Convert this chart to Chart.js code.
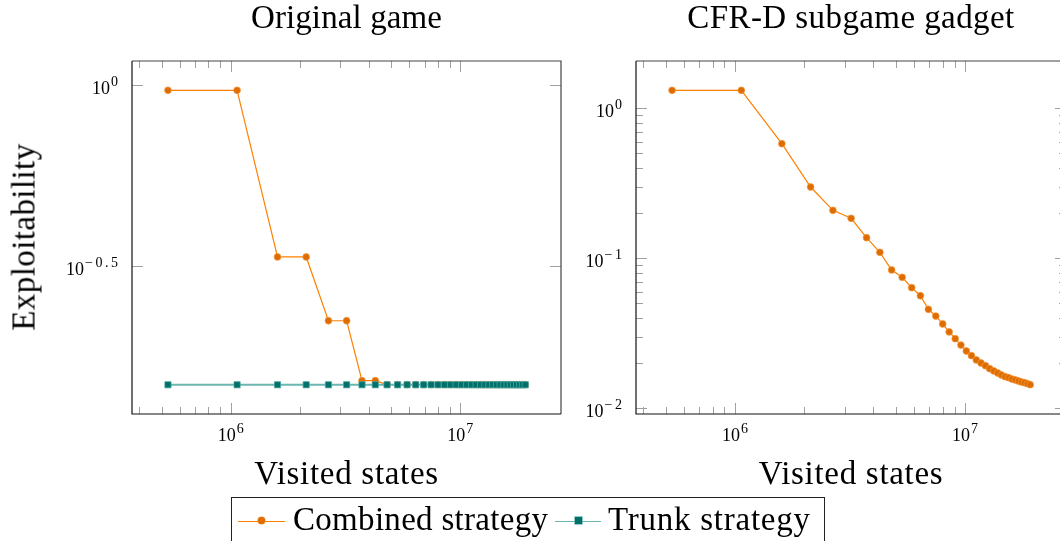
<!DOCTYPE html>
<html>
<head>
<meta charset="utf-8">
<script src="https://cdn.jsdelivr.net/npm/chart.js@4.4.0/dist/chart.umd.min.js"></script>
<style>
  html, body { margin: 0; padding: 0; background: #fff; overflow: hidden; width: 1060px; height: 541px; }
  body { position: relative; font-family: "Liberation Serif", serif; color: #000; }
  .pane { position: absolute; top: 0; height: 541px; }
  .txt { position: absolute; white-space: nowrap; font-size: 33px; line-height: 1; }
  .center { transform: translateX(-50%); }
  #legend { position: absolute; left: 231px; top: 497px; width: 594px; height: 60px; border: 1px solid #222; box-sizing: border-box; }
  .sample { position: absolute; top: 23px; height: 0; }
  .mark { position: absolute; }
</style>
</head>
<body>
<div class="pane" style="left:0;width:575px"><canvas id="orig" width="575" height="541"></canvas></div>
<div class="pane" style="left:575px;width:520px"><canvas id="gadget" width="520" height="541"></canvas></div>

<div class="txt center fit" data-w="191" style="left:346.5px;top:0.5px">Original game</div>
<div class="txt center fit" data-w="327" style="left:851px;top:0.5px">CFR-D subgame gadget</div>
<div class="txt center fit" data-w="184" style="left:346.5px;top:456.5px">Visited states</div>
<div class="txt center fit" data-w="184" style="left:851px;top:456.5px">Visited states</div>
<div class="txt fit" data-w="187" id="ylab" style="left:24px;top:237px;transform:translate(-50%,-50%) rotate(-90deg)">Exploitability</div>

<div id="legend">
  <div class="sample" style="left:6px;width:47px;border-top:1.2px solid #ff8000"></div>
  <div class="mark" style="left:26px;top:19px;width:7px;height:7px;border-radius:50%;background:#dd6d00;box-shadow:0 0 0 0.6px #f59a45"></div>
  <div class="txt fit" data-w="255" style="left:61px;top:4.5px">Combined strategy</div>
  <div class="sample" style="left:323px;width:46px;border-top:1.6px solid #6bb6b1"></div>
  <div class="mark" style="left:343px;top:19px;width:7px;height:7px;background:#00706b;box-shadow:0 0 0 0.6px #4ea8a3"></div>
  <div class="txt fit" data-w="202" style="left:376px;top:4.5px">Trunk strategy</div>
</div>

<script>
// Number of visited states at each checkpoint (shared by both panels)
const visitedStates = [
  533000, 1066000, 1599000, 2132000, 2665000, 3198000, 3731000, 4264000, 4797000,
  5330000, 5863000, 6396000, 6929000, 7462000, 7995000, 8528000, 9061000, 9594000,
  10127000, 10660000, 11193000, 11726000, 12259000, 12792000, 13325000, 13858000,
  14391000, 14924000, 15457000, 15990000, 16523000, 17056000, 17589000, 18122000,
  18655000, 19188000
];

// Exploitability in the original game
const combinedOriginal = [
  0.967, 0.967, 0.335, 0.335, 0.2233, 0.2233, 0.1525, 0.1525, 0.1488,
  0.1488, 0.1488, 0.1488, 0.1488, 0.1488, 0.1488, 0.1488, 0.1488, 0.1488,
  0.1488, 0.1488, 0.1488, 0.1488, 0.1488, 0.1488, 0.1488, 0.1488, 0.1488,
  0.1488, 0.1488, 0.1488, 0.1488, 0.1488, 0.1488, 0.1488, 0.1488, 0.1488
];
const trunkOriginal = [
  0.1486, 0.1486, 0.1486, 0.1486, 0.1486, 0.1486, 0.1486, 0.1486, 0.1486,
  0.1486, 0.1486, 0.1486, 0.1486, 0.1486, 0.1486, 0.1486, 0.1486, 0.1486,
  0.1486, 0.1486, 0.1486, 0.1486, 0.1486, 0.1486, 0.1486, 0.1486, 0.1486,
  0.1486, 0.1486, 0.1486, 0.1486, 0.1486, 0.1486, 0.1486, 0.1486, 0.1486
];

// Exploitability in the CFR-D subgame gadget
const combinedGadget = [
  1.318, 1.318, 0.581, 0.2987, 0.2089, 0.1848, 0.1372, 0.1096, 0.0836,
  0.0747, 0.0637, 0.0563, 0.0457, 0.0412, 0.0365, 0.0323, 0.0291, 0.0264,
  0.0241, 0.02244, 0.0210, 0.02004, 0.01923, 0.01837, 0.01774, 0.01719, 0.01668,
  0.01625, 0.0160, 0.01567, 0.01545, 0.0152, 0.01497, 0.01482, 0.0146, 0.01437
];

// Axis ticks
const xMajorTicks = [1e6, 1e7];
const xTickExponents = ['6', '7'];
const xMinorTicks = [4e5, 5e5, 6e5, 7e5, 8e5, 9e5, 2e6, 3e6, 4e6, 5e6, 6e6, 7e6, 8e6, 9e6];
const origYTicks = [1, 0.316228];
const origYExponents = ['0', '\u22120.5'];
const origYMinorTicks = [];
const gadgetYTicks = [1, 0.1, 0.01];
const gadgetYExponents = ['0', '\u22121', '\u22122'];
const gadgetYMinorTicks = [0.9, 0.8, 0.7, 0.6, 0.5, 0.4, 0.3, 0.2, 0.09, 0.08, 0.07, 0.06, 0.05, 0.04, 0.03, 0.02];

// Axis ranges
const xRange = [371600, 27450000];
const origYRange = [0.12339, 1.1649];
const gadgetYRange = [0.009162, 2.0673];

// Stretch each caption to its intended width
(function fitText() {
  const c = document.createElement('canvas').getContext('2d');
  c.font = '33px "Liberation Serif"';
  document.querySelectorAll('.fit').forEach(el => {
    const t = el.textContent;
    const w = c.measureText(t).width;
    const target = parseFloat(el.dataset.w);
    el.style.letterSpacing = ((target - w) / (t.length - 1)).toFixed(2) + 'px';
  });
})();

const BASE_FONT = '18px "Liberation Serif"';
const SUP_FONT = '14px "Liberation Serif"';
const SUP_SPACING = 2.5;

function drawPower(ctx, exp, x, baseline, align) {
  ctx.font = BASE_FONT;
  const wb = ctx.measureText('10').width;
  ctx.font = SUP_FONT;
  ctx.letterSpacing = SUP_SPACING + 'px';
  const we = ctx.measureText(exp).width - SUP_SPACING;
  ctx.letterSpacing = '0px';
  const total = wb + 1 + we;
  const x0 = align === 'right' ? x - total : x - total / 2;
  ctx.fillStyle = '#000';
  ctx.textAlign = 'left';
  ctx.textBaseline = 'alphabetic';
  ctx.font = BASE_FONT;
  ctx.fillText('10', x0, baseline);
  ctx.font = SUP_FONT;
  ctx.letterSpacing = SUP_SPACING + 'px';
  ctx.fillText(exp, x0 + wb + 1, baseline - 8);
  ctx.letterSpacing = '0px';
}

// Box frame, inward ticks on all four sides, and power-of-ten labels
const axisFrame = {
  id: 'axisFrame',
  beforeDatasetsDraw(chart, args, o) {
    const { ctx, chartArea: a, scales: { x, y } } = chart;
    ctx.save();
    ctx.strokeStyle = '#a0a0a0';
    ctx.lineWidth = 1;
    const seg = (x1, y1, x2, y2) => { ctx.beginPath(); ctx.moveTo(x1, y1); ctx.lineTo(x2, y2); ctx.stroke(); };
    const vt = (v, len) => {
      const p = Math.round(x.getPixelForValue(v)) + 0.5;
      seg(p, a.bottom, p, a.bottom - len);
      seg(p, a.top, p, a.top + len);
    };
    const ht = (v, len) => {
      const p = Math.round(y.getPixelForValue(v)) + 0.5;
      seg(a.left, p, a.left + len, p);
      seg(a.right, p, a.right - len, p);
    };
    o.xMajor.forEach(v => vt(v, 11));
    o.xMinor.forEach(v => vt(v, 7));
    o.yMajor.forEach(v => ht(v, 11));
    o.yMinor.forEach(v => ht(v, 7));
    ctx.restore();
  },
  afterDraw(chart, args, o) {
    const { ctx, chartArea: a, scales: { x, y } } = chart;
    ctx.save();
    ctx.lineWidth = 1.2;
    ctx.strokeStyle = '#444';
    ctx.beginPath();
    ctx.moveTo(a.left, a.top); ctx.lineTo(a.right, a.top); ctx.lineTo(a.right, a.bottom);
    ctx.stroke();
    ctx.strokeStyle = '#111';
    ctx.beginPath();
    ctx.moveTo(a.left, a.top); ctx.lineTo(a.left, a.bottom); ctx.lineTo(a.right, a.bottom);
    ctx.stroke();
    o.xMajor.forEach((v, i) => drawPower(ctx, o.xExp[i], x.getPixelForValue(v), a.bottom + 27, 'center'));
    o.yMajor.forEach((v, i) => drawPower(ctx, o.yExp[i], a.left - 14, y.getPixelForValue(v) + 9, 'right'));
    ctx.restore();
  }
};

function points(ys) {
  return ys.map((v, i) => ({ x: visitedStates[i], y: v }));
}

const combinedStyle = {
  label: 'Combined strategy',
  borderColor: '#ff8000',
  borderWidth: 1.2,
  pointStyle: 'circle',
  pointRadius: 3.4,
  pointBackgroundColor: '#dd6d00',
  pointBorderColor: 'rgba(245,150,60,0.9)',
  pointBorderWidth: 0.8,
  tension: 0,
  fill: false
};
const trunkStyle = {
  label: 'Trunk strategy',
  borderColor: '#6bb6b1',
  borderWidth: 1.8,
  pointStyle: 'rect',
  pointRadius: 4.4,
  pointBackgroundColor: '#00706b',
  pointBorderColor: 'rgba(78,168,163,0.9)',
  pointBorderWidth: 0.8,
  tension: 0,
  fill: false
};

function makeChart(id, datasets, yRange, padding, frameOpts) {
  return new Chart(document.getElementById(id), {
    type: 'line',
    data: { datasets },
    options: {
      responsive: false,
      animation: false,
      events: [],
      layout: { padding },
      scales: {
        x: { type: 'logarithmic', display: false, bounds: 'data', min: xRange[0], max: xRange[1] },
        y: { type: 'logarithmic', display: false, bounds: 'data', min: yRange[0], max: yRange[1] }
      },
      plugins: {
        legend: { display: false },
        tooltip: { enabled: false },
        title: { display: false },
        axisFrame: frameOpts
      }
    },
    plugins: [axisFrame]
  });
}

makeChart('orig', [
  Object.assign({}, trunkStyle, { data: points(trunkOriginal), order: 0 }),
  Object.assign({}, combinedStyle, { data: points(combinedOriginal), order: 1 })
], origYRange, { left: 132, top: 61, right: 14, bottom: 127 }, {
  xMajor: xMajorTicks, xExp: xTickExponents, xMinor: xMinorTicks,
  yMajor: origYTicks, yExp: origYExponents, yMinor: origYMinorTicks
});

makeChart('gadget', [
  Object.assign({}, combinedStyle, { data: points(combinedGadget) })
], gadgetYRange, { left: 61, top: 61, right: 29, bottom: 127 }, {
  xMajor: xMajorTicks, xExp: xTickExponents, xMinor: xMinorTicks,
  yMajor: gadgetYTicks, yExp: gadgetYExponents, yMinor: gadgetYMinorTicks
});
</script>
</body>
</html>
